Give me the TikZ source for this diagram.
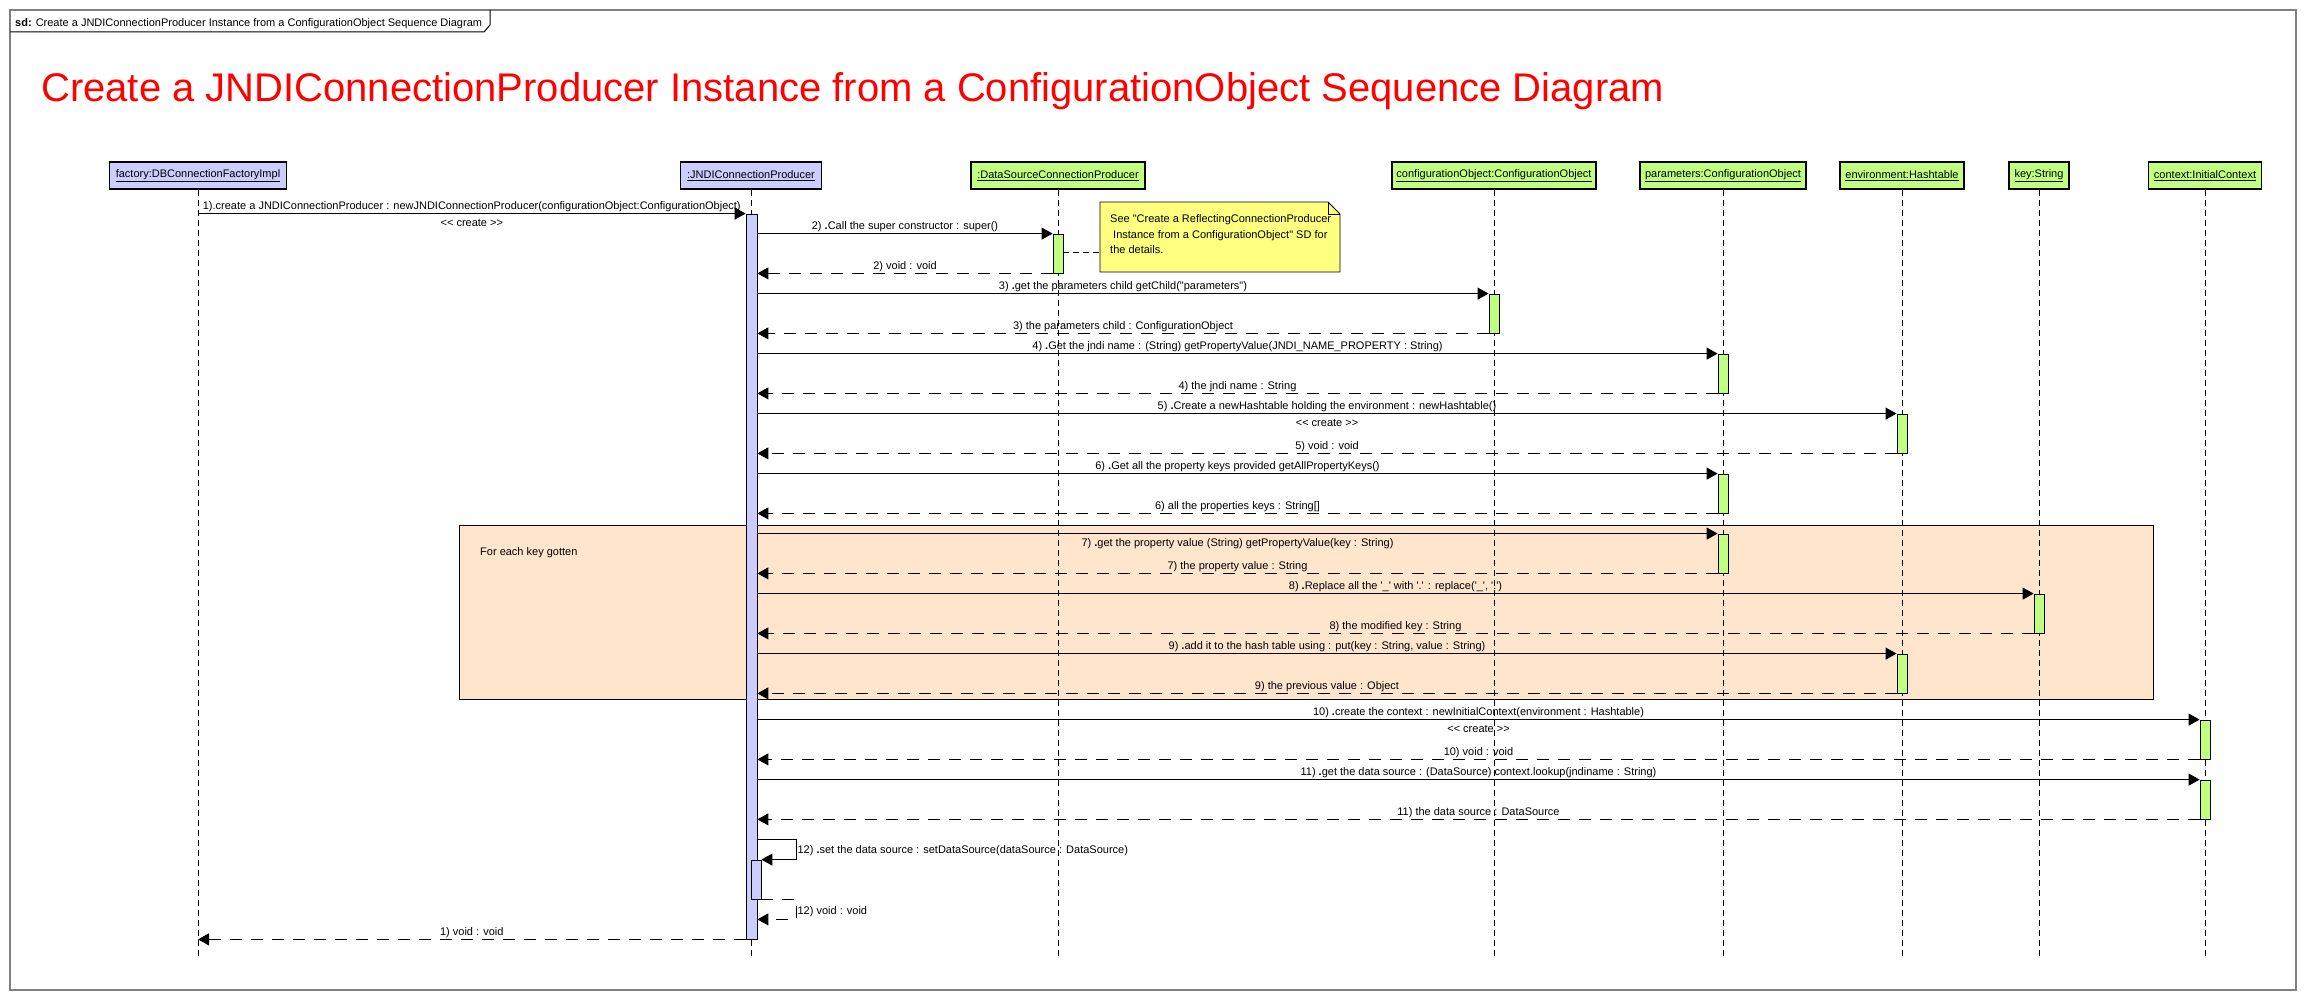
\documentclass[tikz,border=0pt]{standalone}
\usepackage{fontspec}
\setmainfont{Liberation Sans}
\usetikzlibrary{arrows.meta}
\definecolor{lav}{RGB}{204,204,255}
\definecolor{grn}{RGB}{192,255,128}
\definecolor{notey}{RGB}{255,255,128}
\definecolor{peach}{RGB}{255,229,204}
\definecolor{framegray}{RGB}{128,128,128}
\newcommand{\bd}{\textbf{.}}
\newcommand{\sq}{\textquotesingle}
\newcommand{\dq}{\textquotedbl}
\newcommand{\crt}{<\kern0pt< create >\kern0pt>}
\begin{document}
\begin{tikzpicture}[x=1pt,y=-1pt,
  headbox/.style={draw, line width=1.2pt, minimum height=27pt, inner sep=0pt, font=\fontsize{11}{13}\selectfont},
  lifeline/.style={line width=0.8pt, dash pattern=on 6pt off 4pt},
  actbar/.style={draw, line width=0.8pt, minimum width=10pt, inner sep=0pt},
  msg/.style={line width=1pt, -{Triangle[length=11pt,width=12pt]}},
  ret/.style={msg, dash pattern=on 12pt off 9pt},
  lbl/.style={font=\fontsize{11}{13}\selectfont, inner sep=0pt, anchor=base},
  lblup/.style={lbl, yshift=4pt},
  lbldown/.style={lbl, yshift=-13pt},
  notelink/.style={line width=0.8pt, dash pattern=on 6pt off 4pt}
]
\useasboundingbox (0,0) rectangle (2305,1000);
\fill[white] (0,0) rectangle (2305,1000);
% outer frame
\draw[framegray, line width=1.5pt] (10,10) rectangle (2296,990);
% sd tab
\draw[line width=1pt] (10,32) -- (484,32) -- (490,25) -- (490,10);
\node[anchor=base west, inner sep=0pt, font=\fontsize{11}{13}\selectfont] (sd) at (15,26.5)
  {\textbf{sd:} Create a JNDIConnectionProducer Instance from a ConfigurationObject Sequence Diagram};
% title
\node[anchor=base west, inner sep=0pt, text=red, font=\fontsize{40}{48}\selectfont] (title) at (41,102)
  {Create a JNDIConnectionProducer Instance from a ConfigurationObject Sequence Diagram};

% loop fragment
\node[draw, fill=peach, line width=1pt, minimum width=1694pt, minimum height=174pt, anchor=north west, inner sep=0pt] (loop) at (459,525) {};
\node[lbl, anchor=base west] (loopText) at (480,555) {For each key gotten};

% heads
\node[headbox, fill=lav, minimum width=177pt] (hF) at (198,175.5) {\underline{factory:DBConnectionFactoryImpl}};
\node[headbox, fill=lav, minimum width=141pt] (hJ) at (751,175.5) {\underline{:JNDIConnectionProducer}};
\node[headbox, fill=grn, minimum width=174pt] (hDS) at (1058,175.5) {\underline{:DataSourceConnectionProducer}};
\node[headbox, fill=grn, minimum width=204pt] (hC) at (1494,175.5) {\underline{configurationObject:ConfigurationObject}};
\node[headbox, fill=grn, minimum width=166pt] (hP) at (1723,175.5) {\underline{parameters:ConfigurationObject}};
\node[headbox, fill=grn, minimum width=124pt] (hE) at (1902,175.5) {\underline{environment:Hashtable}};
\node[headbox, fill=grn, minimum width=60pt] (hK) at (2039,175.5) {\underline{key:String}};
\node[headbox, fill=grn, minimum width=113pt] (hX) at (2205,175.5) {\underline{context:InitialContext}};

% lifelines
\coordinate (lend) at (0,957);
\foreach \h in {hF,hJ,hDS,hC,hP,hE,hK,hX}
  \draw[lifeline] (\h.south) -- (\h.south |- lend);

% activations
\node[actbar, fill=lav, minimum width=11pt, minimum height=725pt] (aJ) at (751.5,576.5) {};
\node[actbar, fill=grn, minimum height=39pt] (aDS) at (1058,253.5) {};
\node[actbar, fill=grn, minimum height=39pt] (aC) at (1494,313.5) {};
\node[actbar, fill=grn, minimum height=39pt] (aP1) at (1723,373.5) {};
\node[actbar, fill=grn, minimum height=39pt] (aE1) at (1902,433.5) {};
\node[actbar, fill=grn, minimum height=39pt] (aP2) at (1723,493.5) {};
\node[actbar, fill=grn, minimum height=39pt] (aP3) at (1723,553.5) {};
\node[actbar, fill=grn, minimum height=39pt] (aK) at (2039,613.5) {};
\node[actbar, fill=grn, minimum height=39pt] (aE2) at (1902,673.5) {};
\node[actbar, fill=grn, minimum height=39pt] (aX1) at (2205,739.5) {};
\node[actbar, fill=grn, minimum height=39pt] (aX2) at (2205,799.5) {};
\node[actbar, fill=lav, minimum height=39pt] (aJ2) at (756,879.5) {};

% note
\draw[line width=0.8pt, fill=notey] (1100,202) -- (1328,202) -- (1340,214) -- (1340,272) -- (1100,272) -- cycle;
\draw[line width=0.8pt] (1328,202) -- (1328,214) -- (1340,214);
\node[anchor=north west, inner sep=0pt, align=left, font=\fontsize{11}{15.5}\selectfont] (note) at (1110,214.5)
  {See \dq Create a ReflectingConnectionProducer\\\hspace*{3pt}Instance from a ConfigurationObject\dq{} SD for\\the details.};
\coordinate (nc) at (1100,252);
\draw[notelink] (aDS.east |- nc) -- (nc);

% messages
\draw[msg] (aJ.north west -| hF) -- (aJ.north west)
  node[midway, lblup] {1).create a JNDIConnectionProducer : newJNDIConnectionProducer(configurationObject:ConfigurationObject)}
  node[midway, lbldown] {\crt};
\draw[msg] (aJ.east |- aDS.north) -- (aDS.north west)
  node[midway, lblup] {2) \bd Call the super constructor : super()};
\draw[ret] (aDS.south west) -- (aJ.east |- aDS.south)
  node[midway, lblup] {2) void : void};

\draw[msg] (aJ.east |- aC.north) -- (aC.north west)
  node[midway, lblup] {3) \bd get the parameters child getChild(\dq parameters\dq)};
\draw[ret] (aC.south west) -- (aJ.east |- aC.south)
  node[midway, lblup] {3) the parameters child : ConfigurationObject};

\draw[msg] (aJ.east |- aP1.north) -- (aP1.north west)
  node[midway, lblup] {4) \bd Get the jndi name : (String) getPropertyValue(JNDI\_NAME\_PROPERTY : String)};
\draw[ret] (aP1.south west) -- (aJ.east |- aP1.south)
  node[midway, lblup] {4) the jndi name : String};

\draw[msg] (aJ.east |- aE1.north) -- (aE1.north west)
  node[midway, lblup] {5) \bd Create a newHashtable holding the environment : newHashtable()}
  node[midway, lbldown] {\crt};
\draw[ret] (aE1.south west) -- (aJ.east |- aE1.south)
  node[midway, lblup] {5) void : void};

\draw[msg] (aJ.east |- aP2.north) -- (aP2.north west)
  node[midway, lblup] {6) \bd Get all the property keys provided getAllPropertyKeys()};
\draw[ret] (aP2.south west) -- (aJ.east |- aP2.south)
  node[midway, lblup] {6) all the properties keys : String[]};

\draw[msg] (aJ.east |- aP3.north) -- (aP3.north west)
  node[midway, lbldown] {7) \bd get the property value (String) getPropertyValue(key : String)};
\draw[ret] (aP3.south west) -- (aJ.east |- aP3.south)
  node[midway, lblup] {7) the property value : String};

\draw[msg] (aJ.east |- aK.north) -- (aK.north west)
  node[midway, lblup] {8) \bd Replace all the \sq\_\sq{} with \sq.\sq{} : replace(\sq\_\sq, \sq.\sq)};
\draw[ret] (aK.south west) -- (aJ.east |- aK.south)
  node[midway, lblup] {8) the modified key : String};

\draw[msg] (aJ.east |- aE2.north) -- (aE2.north west)
  node[midway, lblup] {9) \bd add it to the hash table using : put(key : String, value : String)};
\draw[ret] (aE2.south west) -- (aJ.east |- aE2.south)
  node[midway, lblup] {9) the previous value : Object};

\draw[msg] (aJ.east |- aX1.north) -- (aX1.north west)
  node[midway, lblup] {10) \bd create the context : newInitialContext(environment : Hashtable)}
  node[midway, lbldown] {\crt};
\draw[ret] (aX1.south west) -- (aJ.east |- aX1.south)
  node[midway, lblup] {10) void : void};

\draw[msg] (aJ.east |- aX2.north) -- (aX2.north west)
  node[midway, lblup] {11) \bd get the data source : (DataSource) context.lookup(jndiname : String)};
\draw[ret] (aX2.south west) -- (aJ.east |- aX2.south)
  node[midway, lblup] {11) the data source : DataSource};

% self call 12
\draw[msg] ([yshift=20pt]aJ.east |- aJ2.north) -- ++(39,0) coordinate (s12) |- (aJ2.north east);
\node[lbl, anchor=base west] (l12) at ([xshift=1pt,yshift=-14pt]s12) {12) \bd set the data source : setDataSource(dataSource : DataSource)};
\draw[ret] (aJ2.south east) -- ++(35,0) coordinate (r12) -- ++(0,20) -- ([yshift=-20pt]aJ.east |- aJ2.south);
\node[lbl, anchor=base west] (lr12) at ([xshift=1pt,yshift=-15pt]r12) {12) void : void};

% return 1
\draw[ret] (aJ.south west) -- (aJ.south west -| hF)
  node[midway, lblup] {1) void : void};
\end{tikzpicture}
\end{document}
